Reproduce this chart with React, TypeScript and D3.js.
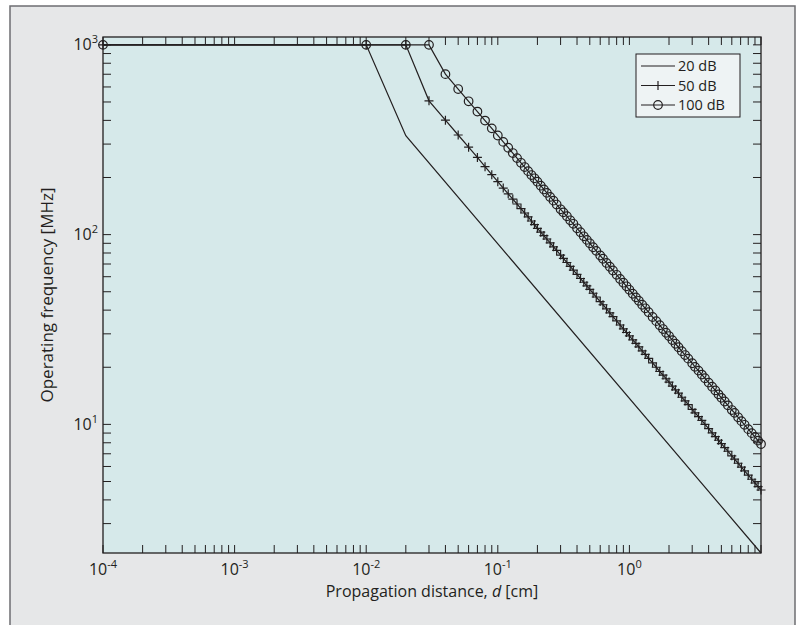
import React from 'react';
import * as d3 from 'd3';

// sample distances [cm], shared by the marked series
const distance = [
  0.0001,
  0.01, 0.02, 0.03, 0.04, 0.05, 0.06, 0.07, 0.08, 0.09, 0.1,
  0.11, 0.12, 0.13, 0.14, 0.15, 0.16, 0.17, 0.18, 0.19, 0.2,
  0.212, 0.224, 0.236, 0.25, 0.265, 0.28, 0.3, 0.315, 0.335, 0.355, 0.375, 0.4,
  0.425, 0.45, 0.475, 0.5, 0.53, 0.56, 0.6, 0.63, 0.67, 0.71, 0.75, 0.8, 0.85, 0.9, 0.95,
  1.0, 1.06, 1.12, 1.18, 1.25, 1.32, 1.4, 1.5, 1.6, 1.7, 1.8, 1.9,
  2.0, 2.12, 2.24, 2.36, 2.5, 2.65, 2.8, 3.0, 3.15, 3.35, 3.55, 3.75,
  4.0, 4.25, 4.5, 4.75, 5.0, 5.3, 5.6, 6.0, 6.3, 6.7, 7.1, 7.5, 8.0, 8.5, 9.0, 9.5, 10,
];

// operating frequency [MHz], 50 dB
const freq50 = [
  1000, 1000, 1000,
  507, 401, 335, 289, 255, 228, 207, 190,
  176, 164, 154, 145, 137, 130, 124, 118,
  113, 108, 103, 98.9, 94.8, 90.4, 86.2, 82.5,
  78, 74.9, 71.3, 68, 65, 61.7, 58.7, 56.1,
  53.7, 51.5, 49.1, 46.9, 44.4, 42.7, 40.6, 38.7,
  37, 35.1, 33.4, 31.9, 30.5, 29.3, 27.9, 26.7,
  25.6, 24.4, 23.4, 22.3, 21.1, 20, 19, 18.2,
  17.4, 16.7, 15.9, 15.2, 14.6, 13.9, 13.3, 12.7,
  12, 11.5, 11, 10.5, 10, 9.49, 9.03, 8.62,
  8.25, 7.92, 7.55, 7.22, 6.83, 6.56, 6.24, 5.95,
  5.69, 5.4, 5.14, 4.91, 4.7, 4.51,
];

// operating frequency [MHz], 100 dB
const freq100 = [
  1000, 1000, 1000, 1000,
  701, 585, 504, 445, 399, 363, 333, 308,
  287, 269, 253, 239, 227, 216, 206, 198,
  190, 181, 173, 166, 158, 151, 144, 136,
  131, 125, 119, 114, 108, 103, 98, 93.8,
  90, 85.8, 82.1, 77.6, 74.6, 70.9, 67.7, 64.7,
  61.4, 58.4, 55.8, 53.4, 51.2, 48.8, 46.7, 44.8,
  42.7, 40.9, 39, 36.8, 35, 33.3, 31.8, 30.4,
  29.2, 27.8, 26.6, 25.5, 24.3, 23.2, 22.2, 21,
  20.1, 19.2, 18.3, 17.5, 16.6, 15.8, 15.1, 14.4,
  13.8, 13.2, 12.6, 11.9, 11.5, 10.9, 10.4, 9.95,
  9.44, 8.99, 8.58, 8.21, 7.88,
];

// 20 dB: plain line, corners only
const dist20 = [0.0001, 0.01, 0.02, 10];
const freq20 = [1000, 1000, 332, 2.1];

const xMajor = [1e-4, 1e-3, 1e-2, 1e-1, 1];
const xExp = ['-4', '-3', '-2', '-1', '0'];
const yMajor = [10, 100, 1000];
const yExp = ['1', '2', '3'];
const legendNames = ['20 dB', '50 dB', '100 dB'];

const W = 803, H = 625;
const plot = { left: 103, right: 761, top: 37, bottom: 553 };
const ink = '#231f20';
const font = '"Open Sans", sans-serif';

export default function App() {
  const x = d3.scaleLog().domain([1e-4, 10]).range([plot.left, plot.right]);
  const y = d3.scaleLog().domain([2.1, 1100]).range([plot.bottom, plot.top]);

  const line = d3.line<[number, number]>().x(d => x(d[0])).y(d => y(d[1]));
  const pts50 = distance.map((d, i) => [d, freq50[i]] as [number, number]);
  const pts100 = distance.map((d, i) => [d, freq100[i]] as [number, number]);
  const pts20 = dist20.map((d, i) => [d, freq20[i]] as [number, number]);

  const xTicks = x.ticks();
  const yTicks = y.ticks();
  const tl = 8;
  const plus = (cx: number, cy: number) => `M${cx - 4.5},${cy}h9M${cx},${cy - 4.5}v9`;

  return (
    <svg width={W} height={H} style={{ position: 'absolute', left: 0, top: 0 }} fontFamily={font}>
      <rect x={0} y={0} width={W} height={H} fill="#fff" />
      <rect x={10} y={6} width={785} height={640} fill="#e6e7e8" stroke="#6d6e71" strokeWidth={1.5} />
      <rect x={plot.left} y={plot.top} width={plot.right - plot.left} height={plot.bottom - plot.top} fill="#d6e9ea" />

      {/* ticks, all four sides, pointing inward */}
      <g stroke={ink} strokeWidth={1}>
        {xTicks.map((t, i) => (
          <g key={'x' + i}>
            <line x1={x(t)} x2={x(t)} y1={plot.bottom} y2={plot.bottom - tl} />
            <line x1={x(t)} x2={x(t)} y1={plot.top} y2={plot.top + tl} />
          </g>
        ))}
        {yTicks.map((t, i) => (
          <g key={'y' + i}>
            <line x1={plot.left} x2={plot.left + tl} y1={y(t)} y2={y(t)} />
            <line x1={plot.right} x2={plot.right - tl} y1={y(t)} y2={y(t)} />
          </g>
        ))}
      </g>
      <rect x={plot.left} y={plot.top} width={plot.right - plot.left} height={plot.bottom - plot.top} fill="none" stroke={ink} strokeWidth={1.3} />

      {/* tick labels */}
      {xMajor.map((t, i) => (
        <text key={'xl' + i} x={x(t)} y={575} textAnchor="middle" fontSize={16} fill={ink}>
          10<tspan dy={-7} fontSize={11}>{xExp[i]}</tspan>
        </text>
      ))}
      {yMajor.map((t, i) => (
        <text key={'yl' + i} x={98} y={y(t) + 5.5} textAnchor="end" fontSize={16} fill={ink}>
          10<tspan dy={-7} fontSize={11}>{yExp[i]}</tspan>
        </text>
      ))}

      <text x={(plot.left + plot.right) / 2} y={597} textAnchor="middle" fontSize={16} fill={ink}>
        Propagation distance, <tspan fontStyle="italic">d</tspan> [cm]
      </text>
      <text transform={`translate(53,${(plot.top + plot.bottom) / 2}) rotate(-90)`} textAnchor="middle" fontSize={17} fill={ink}>
        Operating frequency [MHz]
      </text>

      {/* series */}
      <path d={line(pts20) || ''} fill="none" stroke={ink} strokeWidth={1.2} />
      <path d={line(pts50) || ''} fill="none" stroke={ink} strokeWidth={1.2} />
      <path d={line(pts100) || ''} fill="none" stroke={ink} strokeWidth={1.2} />
      <g stroke={ink} strokeWidth={1.2}>
        {pts50.map((p, i) => (
          <path key={'p' + i} d={plus(x(p[0]), y(p[1]))} />
        ))}
      </g>
      <g stroke={ink} strokeWidth={1.2} fill="none">
        {pts100.map((p, i) => (
          <circle key={'c' + i} cx={x(p[0])} cy={y(p[1])} r={4.3} />
        ))}
      </g>

      {/* legend */}
      <g>
        <rect x={636} y={54} width={104} height={63} fill="#eef3f4" stroke={ink} strokeWidth={1} />
        {legendNames.map((n, i) => {
          const ly = 66 + i * 19.5;
          return (
            <g key={n}>
              <line x1={641} x2={675} y1={ly} y2={ly} stroke={ink} strokeWidth={1.2} />
              {i === 1 && <path d={plus(658, ly)} stroke={ink} strokeWidth={1.2} />}
              {i === 2 && <circle cx={658} cy={ly} r={4.3} fill="none" stroke={ink} strokeWidth={1.2} />}
              <text x={678} y={ly + 5.2} fontSize={14.5} fill={ink}>{n}</text>
            </g>
          );
        })}
      </g>
    </svg>
  );
}
